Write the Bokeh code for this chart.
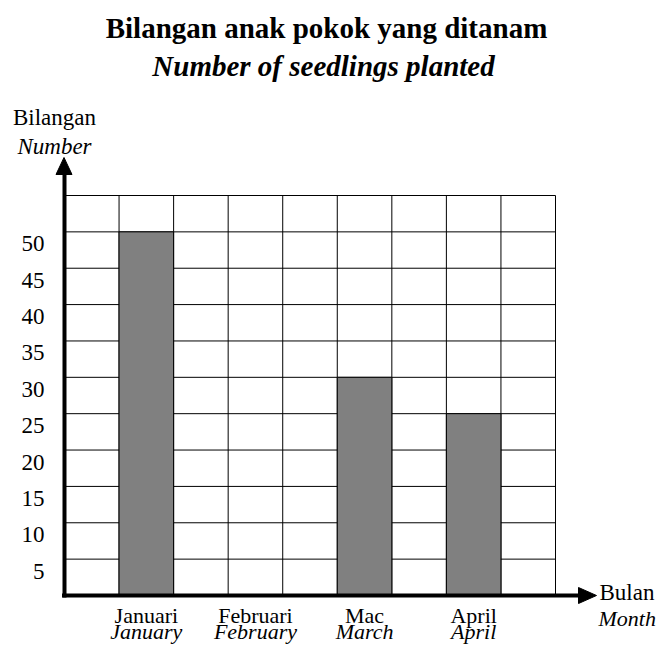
from bokeh.plotting import figure
from bokeh.models import Range1d, ColumnDataSource
from bokeh.core.properties import value
from bokeh.embed import file_html
from bokeh.resources import INLINE

# ---------------- data ----------------
months_ms = ["Januari", "Februari", "Mac", "April"]
months_en = ["January", "February", "March", "April"]
seedlings = [50, 0, 30, 25]
month_columns = [1, 3, 5, 7]          # grid column holding each month
y_ticks = [5, 10, 15, 20, 25, 30, 35, 40, 45, 50]
n_columns = 9
y_top = 55
y_step = 5

title_ms = "Bilangan anak pokok yang ditanam"
title_en = "Number of seedlings planted"
ylab_ms, ylab_en = "Bilangan", "Number"
xlab_ms, xlab_en = "Bulan", "Month"

# ---------------- layout (pixel geometry) ----------------
W, H = 656, 644
X0_IMG, X9_IMG = 64.0, 555.0     # grid left / right (px)
Y0_IMG, YT_IMG = 595.0, 195.0    # value 0 / value 55 (px)
SX = (X9_IMG - X0_IMG) / n_columns
SY = (Y0_IMG - YT_IMG) / y_top


def px(ix):
    return (ix - X0_IMG) / SX


def py(iy):
    return (Y0_IMG - iy) / SY


p = figure(width=W, height=H, output_backend="svg", toolbar_location=None,
           x_range=Range1d(px(0), px(W)), y_range=Range1d(py(H), py(0)),
           x_axis_location=None, y_axis_location=None, min_border=0,
           tools="")
p.grid.visible = False
p.outline_line_color = None
p.background_fill_color = "white"
p.border_fill_color = "white"

FONT = value("Liberation Serif")

# grid
gy = list(range(y_step, y_top + 1, y_step))
p.segment(x0=[0] * len(gy), y0=gy, x1=[n_columns] * len(gy), y1=gy,
          line_color="#000000", line_width=1)
gx = list(range(1, n_columns + 1))
p.segment(x0=gx, y0=[0] * len(gx), x1=gx, y1=[y_top] * len(gx),
          line_color="#000000", line_width=1)

# bars
src = ColumnDataSource(dict(x=[c + 0.5 for c in month_columns], top=seedlings,
                            ms=months_ms, en=months_en))
p.vbar(x="x", top="top", bottom=0, width=1, source=src,
       fill_color="#808080", line_color="#000000", line_width=1)

# axes with arrows
p.segment(x0=[0], y0=[py(597)], x1=[0], y1=[py(172)], line_color="black", line_width=4)
p.segment(x0=[px(61.5)], y0=[0], x1=[px(580)], y1=[0], line_color="black", line_width=4)
p.patch(x=[px(55.5), px(71.5), px(63.5)], y=[py(174), py(174), py(157)],
        fill_color="black", line_color="black", line_width=1)
p.patch(x=[px(578), px(578), px(596)], y=[py(587), py(603), py(595)],
        fill_color="black", line_color="black", line_width=1)

# tick labels
p.text(x=[px(44)] * len(y_ticks), y=y_ticks, text=[str(t) for t in y_ticks],
       y_offset=12, text_font=FONT, text_font_size="23px", text_color="black",
       text_align="right", text_baseline="alphabetic")

# category labels
p.text(x="x", y=0, text="ms", source=src, y_offset=20, text_font=FONT,
       text_font_size="22px", text_color="black", text_align="center",
       text_baseline="alphabetic")
p.text(x="x", y=0, text="en", source=src, y_offset=36, text_font=FONT,
       text_font_size="22px", text_font_style="italic", text_color="black",
       text_align="center", text_baseline="alphabetic")

# titles
p.text(x=[px(326)], y=[py(27)], text=[title_ms], text_font=FONT,
       text_font_size="29px", text_font_style="bold", text_color="black",
       text_align="center", text_baseline="alphabetic")
p.text(x=[px(323)], y=[py(65)], text=[title_en], text_font=FONT,
       text_font_size="29px", text_font_style="bold italic", text_color="black",
       text_align="center", text_baseline="alphabetic")

# axis titles
p.text(x=[px(54)], y=[py(117)], text=[ylab_ms], text_font=FONT,
       text_font_size="23px", text_color="black", text_align="center",
       text_baseline="alphabetic")
p.text(x=[px(54)], y=[py(146)], text=[ylab_en], text_font=FONT,
       text_font_size="23px", text_font_style="italic", text_color="black",
       text_align="center", text_baseline="alphabetic")
p.text(x=[px(599)], y=[py(592)], text=[xlab_ms], text_font=FONT,
       text_font_size="23px", text_color="black", text_align="left",
       text_baseline="alphabetic")
p.text(x=[px(598)], y=[py(618)], text=[xlab_en], text_font=FONT,
       text_font_size="22px", text_font_style="italic", text_color="black",
       text_align="left", text_baseline="alphabetic")

open("out.html", "w").write(file_html(p, INLINE))
